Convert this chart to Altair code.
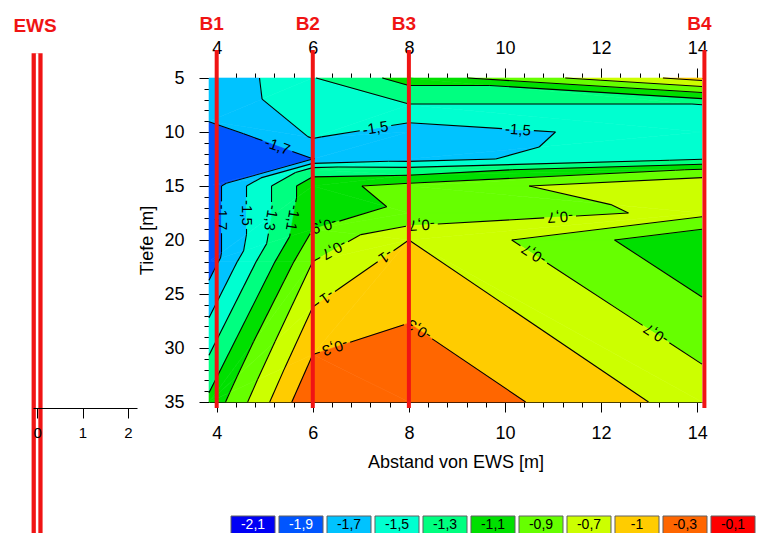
import math
import numpy as np
import pandas as pd
import altair as alt

FONT = "Liberation Sans"

# ---------------- values ----------------
# field values along four profiles: x [m], depth [m], value
profile_x = [3.84, 6.0, 8.0, 14.1]
profile_depths = [
    [5, 9, 15, 22, 35],
    [5, 10.5, 12.5, 13.5, 15, 19, 22, 26.2, 30.6, 35],
    [5, 7.5, 10, 12.5, 13.5, 14, 15, 17.5, 20, 35],
    [5, 7.5, 10, 12.5, 13.5, 15, 17.5, 20, 35],
]
profile_values = [
    [-1.68, -1.699, -1.80, -1.80, -1.05],
    [-1.31, -1.49, -1.702, -1.20, -0.97, -0.90, -0.70, -0.50, -0.30, -0.11],
    [-1.02, -1.31, -1.60, -1.58, -1.22, -1.10, -0.833, -0.879, -0.50, -0.11],
    [-0.42, -1.31, -1.40, -1.31, -0.88, -0.509, -0.64, -1.07, -0.587],
]
# triangulation between neighbouring profiles (L: next node left profile, R: next node right profile)
strip_steps = ["LRRLRRLRRLRRR", "RLRLRLRRLRRLRLLLRL", "RLRLLRLRLLRRLLRRL"]

# colour classes (legend)
band_labels = ["-2,1", "-1,9", "-1,7", "-1,5", "-1,3", "-1,1", "-0,9", "-0,7", "-1", "-0,3", "-0,1"]
band_colors = ["#0000F5", "#0055FF", "#00C3FF", "#00FFD0", "#00FF80", "#00E000",
               "#66FF00", "#CCFF00", "#FFCC00", "#FF6600", "#FF0000"]
levels = [-1.9, -1.7, -1.5, -1.3, -1.1, -0.9, -0.7, -0.5, -0.3, -0.1]

# contour labels: text, contour level, approximate position (x, depth)
label_text = ["-1,5", "-1,5", "-1,7", "-1,7", "-1,5", "-1,3", "-1,1", "-0,9", "-0,7", "-0,7",
              "-1", "-1", "-0,3", "-0,3", "-0,7", "-0,7", "-0,7"]
label_level = [-1.5, -1.5, -1.7, -1.7, -1.5, -1.3, -1.1, -0.9, -0.7, -0.7,
               -0.5, -0.5, -0.3, -0.3, -0.7, -0.7, -0.7]
label_x = [7.3, 10.27, 5.27, 4.1, 4.6, 5.06, 5.52, 6.25, 6.42, 8.27,
           7.5, 6.3, 6.46, 8.2, 11.15, 10.56, 13.1]
label_depth = [9.5, 9.8, 11.2, 17.9, 17.5, 17.9, 17.9, 18.9, 20.7, 18.6,
               21.4, 25.3, 29.9, 28.4, 18.1, 21.6, 29.0]

# boreholes
borehole_names = ["B1", "B2", "B3", "B4"]
borehole_x = [4.0, 6.0, 8.0, 14.15]
borehole_top = [2.4, 2.4, 2.4, 2.4]
borehole_bottom = [35.55, 35.55, 35.55, 35.55]
ews_name = ["EWS"]
ews_x = [0.0]
ews_top = [2.7]
ews_bottom = [48.0]

x_ticks = [4.0, 4.4, 4.8, 5.2, 5.6, 6.0, 6.4, 6.8, 7.2, 7.6, 8.0, 8.4, 8.8, 9.2, 9.6,
           10.0, 10.4, 10.8, 11.2, 11.6, 12.0, 12.4, 12.8, 13.2, 13.6, 14.0]
y_ticks = list(range(5, 36))
ews_ticks = [0, 1, 2]

X_DOM = [3.84, 14.1]
Y_DOM = [5, 35]
W, H = 493, 324

# ---------------- geometry from the values ----------------
nodes, col_idx = [], []
for cx, ds, vs in zip(profile_x, profile_depths, profile_values):
    idx = []
    for d, v in zip(ds, vs):
        idx.append(len(nodes))
        nodes.append((cx, float(d), float(v)))
    col_idx.append(idx)

tris = []
for s, steps in enumerate(strip_steps):
    Lc, Rc = col_idx[s], col_idx[s + 1]
    i = j = 0
    for st in steps:
        if st == "L":
            tris.append((Lc[i], Lc[i + 1], Rc[j])); i += 1
        else:
            tris.append((Lc[i], Rc[j], Rc[j + 1])); j += 1


def to_px(x, d):
    return ((x - X_DOM[0]) / (X_DOM[1] - X_DOM[0]) * W, (d - Y_DOM[0]) / (Y_DOM[1] - Y_DOM[0]) * H)


def from_px(X, Y):
    return (X_DOM[0] + X / W * (X_DOM[1] - X_DOM[0]), Y_DOM[0] + Y / H * (Y_DOM[1] - Y_DOM[0]))


def clip(poly, level, keep_above):
    out = []
    n = len(poly)
    for k in range(n):
        P, Q = poly[k], poly[(k + 1) % n]
        fp = (P[2] - level) if keep_above else (level - P[2])
        fq = (Q[2] - level) if keep_above else (level - Q[2])
        if fp >= 0:
            out.append(P)
        if (fp >= 0) != (fq >= 0):
            t = fp / (fp - fq)
            out.append(tuple(P[m] + t * (Q[m] - P[m]) for m in range(3)))
    return out


def poly_area(poly):
    a = 0.0
    for k in range(len(poly)):
        x1, y1 = poly[k][0], poly[k][1]
        x2, y2 = poly[(k + 1) % len(poly)][0], poly[(k + 1) % len(poly)][1]
        a += x1 * y2 - x2 * y1
    return abs(a) / 2


area_rows = []
pid = 0
for t in tris:
    tri = [nodes[k] for k in t]
    for b in range(len(band_labels)):
        poly = tri
        if b > 0:
            poly = clip(poly, levels[b - 1], True)
        if b < len(levels) and len(poly) >= 3:
            poly = clip(poly, levels[b], False)
        if len(poly) < 3 or poly_area(poly) < 1e-9:
            continue
        xs = sorted(set(round(p[0], 9) for p in poly))
        if len(xs) < 2:
            continue
        for xv in xs:
            ds = []
            for k in range(len(poly)):
                P, Q = poly[k], poly[(k + 1) % len(poly)]
                lo, hi = min(P[0], Q[0]), max(P[0], Q[0])
                if lo - 1e-9 <= xv <= hi + 1e-9:
                    if abs(Q[0] - P[0]) < 1e-12:
                        ds += [P[1], Q[1]]
                    else:
                        tt = (xv - P[0]) / (Q[0] - P[0])
                        ds.append(P[1] + tt * (Q[1] - P[1]))
            area_rows.append((pid, band_labels[b], xv, min(ds), max(ds)))
        pid += 1
area_df = pd.DataFrame(area_rows, columns=["pid", "band", "x", "d1", "d2"])

# contour segments (pixel space for geometry decisions)
segs = []
for ti, t in enumerate(tris):
    tri = [nodes[k] for k in t]
    for L in levels:
        pts = []
        for a, b in ((0, 1), (1, 2), (2, 0)):
            A, B = tri[a], tri[b]
            if (A[2] < L) != (B[2] < L):
                tt = (L - A[2]) / (B[2] - A[2])
                pts.append((A[0] + tt * (B[0] - A[0]), A[1] + tt * (B[1] - A[1])))
        if len(pts) == 2:
            P1, P2 = to_px(*pts[0]), to_px(*pts[1])
            if math.hypot(P2[0] - P1[0], P2[1] - P1[1]) > 1e-6:
                segs.append((L, P1, P2, ti))


def grad_px(t):
    (x0, d0, v0), (x1, d1, v1), (x2, d2, v2) = [nodes[k] for k in t]
    P0, P1, P2 = to_px(x0, d0), to_px(x1, d1), to_px(x2, d2)
    M = np.array([[P1[0] - P0[0], P1[1] - P0[1]], [P2[0] - P0[0], P2[1] - P0[1]]])
    return np.linalg.solve(M, [v1 - v0, v2 - v0])


CW = {"-": 0.333, ",": 0.278}
LABEL_FS = 15
lab_rows = []
lab_cuts = []
for txt, L, lx, ld in zip(label_text, label_level, label_x, label_depth):
    C = to_px(lx, ld)
    best = None
    for (SL, A, B, ti) in segs:
        if abs(SL - L) > 1e-9:
            continue
        dx, dy = B[0] - A[0], B[1] - A[1]
        tt = max(0, min(1, ((C[0] - A[0]) * dx + (C[1] - A[1]) * dy) / (dx * dx + dy * dy)))
        Pp = (A[0] + tt * dx, A[1] + tt * dy)
        dist = math.hypot(Pp[0] - C[0], Pp[1] - C[1])
        if best is None or dist < best[0]:
            best = (dist, Pp, ti)
    _, Pp, ti = best
    gx, gy = grad_px(tris[ti])
    ang = math.degrees(math.atan2(gx, -gy)) % 360
    wid = sum(CW.get(ch, 0.556) for ch in txt) * LABEL_FS
    lab_cuts.append((L, Pp, wid / 2 + 3))
    xx, dd = from_px(*Pp)
    lab_rows.append((txt, xx, dd, ang))
lab_df = pd.DataFrame(lab_rows, columns=["text", "x", "d", "angle"])


def cut(A, B, C, r):
    dx, dy = B[0] - A[0], B[1] - A[1]
    fx, fy = A[0] - C[0], A[1] - C[1]
    a = dx * dx + dy * dy
    b = 2 * (fx * dx + fy * dy)
    c = fx * fx + fy * fy - r * r
    disc = b * b - 4 * a * c
    if disc <= 0:
        return [(A, B)]
    s = math.sqrt(disc)
    t1, t2 = (-b - s) / (2 * a), (-b + s) / (2 * a)
    out = []
    lerp = lambda tt: (A[0] + tt * dx, A[1] + tt * dy)
    if t1 > 0:
        out.append((A, lerp(min(t1, 1))))
    if t2 < 1:
        out.append((lerp(max(t2, 0)), B))
    return [(p, q) for p, q in out if math.hypot(q[0] - p[0], q[1] - p[1]) > 1e-6]


seg_rows = []
for (L, A, B, ti) in segs:
    pieces = [(A, B)]
    for (LL, C, r) in lab_cuts:
        if abs(LL - L) > 1e-9:
            continue
        new = []
        for p, q in pieces:
            new += cut(p, q, C, r)
        pieces = new
    for p, q in pieces:
        x1, d1 = from_px(*p)
        x2, d2 = from_px(*q)
        seg_rows.append((x1, d1, x2, d2))
seg_df = pd.DataFrame(seg_rows, columns=["x", "d", "x2", "d2"])

bore_df = pd.DataFrame({"name": borehole_names, "x": borehole_x, "top": borehole_top, "bottom": borehole_bottom})
ews_df = pd.DataFrame({"name": ews_name, "x": ews_x, "top": ews_top, "bottom": ews_bottom})
leg_df = pd.DataFrame({"label": band_labels, "row": ["legend"] * len(band_labels)})

# ---------------- chart ----------------
EVEN = "abs(datum.value/2 - round(datum.value/2)) < 0.001"
FIVE = "abs(datum.value/5 - round(datum.value/5)) < 0.001"


def xscale():
    return alt.Scale(domain=X_DOM, nice=False, zero=False)


def yscale():
    return alt.Scale(domain=Y_DOM, nice=False, zero=False, reverse=True)


common = dict(domainColor="#000", domainWidth=1, tickColor="#000", tickWidth=1,
              labelColor="#000", labelFont=FONT, labelFontSize=18, labelOverlap=False,
              labelFlush=False, grid=False, titleFont=FONT, titleFontSize=18,
              titleFontWeight="normal", titleColor="#000")

x_axis_bottom = alt.Axis(orient="bottom", values=x_ticks,
                         tickSize={"condition": {"test": EVEN, "value": 10}, "value": 5},
                         labelExpr=f"{EVEN} ? format(datum.value, 'd') : ''",
                         labelPadding=12, title="Abstand von EWS [m]", titlePadding=11, **common)
x_axis_top = alt.Axis(orient="top", values=x_ticks,
                      tickSize={"condition": {"test": EVEN, "value": 10}, "value": 5},
                      labelExpr=f"{EVEN} ? format(datum.value, 'd') : ''",
                      labelPadding=11, title=None, **common)
y_axis = alt.Axis(orient="left", values=y_ticks,
                  tickSize={"condition": {"test": FIVE, "value": 10}, "value": 5},
                  labelExpr=f"{FIVE} ? format(datum.value, 'd') : ''",
                  labelPadding=15, title="Tiefe [m]", titlePadding=7, **common)
ews_common = dict(common)
ews_common["labelFontSize"] = 15
ews_axis = alt.Axis(orient="bottom", offset=6, values=ews_ticks, tickSize=10, format="d",
                    labelPadding=7, title=None, zindex=2, **ews_common)

color_scale = alt.Scale(domain=band_labels, range=band_colors)

areas = alt.Chart(area_df).mark_area(strokeWidth=0.6).encode(
    x=alt.X("x:Q", scale=xscale(), axis=x_axis_bottom),
    y=alt.Y("d1:Q", scale=yscale(), axis=y_axis),
    y2="d2:Q",
    detail="pid:N",
    color=alt.Color("band:N", scale=color_scale, legend=None),
    stroke=alt.Stroke("band:N", scale=color_scale, legend=None),
)

lines = alt.Chart(seg_df).mark_rule(color="#000", strokeWidth=1.1).encode(
    x=alt.X("x:Q", scale=xscale(), axis=None),
    y=alt.Y("d:Q", scale=yscale(), axis=None),
    x2="x2:Q", y2="d2:Q",
)

labels = alt.Chart(lab_df).mark_text(font=FONT, fontSize=LABEL_FS, color="#000",
                                     align="center", baseline="middle").encode(
    x=alt.X("x:Q", scale=xscale(), axis=None),
    y=alt.Y("d:Q", scale=yscale(), axis=None),
    text="text:N",
    angle=alt.Angle("angle:Q", scale=None),
)

RED = "#F01414"
bores = alt.Chart(bore_df).mark_rule(color=RED, strokeWidth=4).encode(
    x=alt.X("x:Q", scale=xscale(), axis=x_axis_top),
    y=alt.Y("top:Q", scale=yscale(), axis=None),
    y2="bottom:Q",
)
bore_text = alt.Chart(bore_df).mark_text(font=FONT, fontSize=19, fontWeight="bold", color=RED,
                                         baseline="middle", dy=-26, dx=-5).encode(
    x=alt.X("x:Q", scale=xscale(), axis=None),
    y=alt.Y("top:Q", scale=yscale(), axis=None),
    text="name:N",
)

ews_scale = lambda: alt.Scale(domain=[-0.09, 2.2], range=[-176, -72], nice=False, zero=False)
ews_outer = alt.Chart(ews_df).mark_rule(color=RED, strokeWidth=11).encode(
    x=alt.X("x:Q", scale=ews_scale(), axis=ews_axis),
    y=alt.Y("top:Q", scale=yscale(), axis=None),
    y2="bottom:Q",
)
ews_inner = alt.Chart(ews_df).mark_rule(color="#FFFFFF", strokeWidth=2.5).encode(
    x=alt.X("x:Q", scale=ews_scale(), axis=None),
    y=alt.Y("top:Q", scale=yscale(), axis=None),
    y2="bottom:Q",
)
ews_text = alt.Chart(ews_df).mark_text(font=FONT, fontSize=19, fontWeight="bold", color=RED,
                                       baseline="middle", dy=-27, dx=-2).encode(
    x=alt.X("x:Q", scale=ews_scale(), axis=None),
    y=alt.Y("top:Q", scale=yscale(), axis=None),
    text="name:N",
)

leg_x = lambda: alt.Scale(type="band", domain=band_labels, range=[22, 546], paddingInner=0.083, paddingOuter=0)
leg_y = lambda: alt.Scale(type="band", domain=["legend"], range=[438, 456], paddingInner=0, paddingOuter=0)
leg_rect = alt.Chart(leg_df).mark_rect(stroke="#606060", strokeWidth=1).encode(
    x=alt.X("label:N", scale=leg_x(), axis=None),
    y=alt.Y("row:N", scale=leg_y(), axis=None),
    color=alt.Color("label:N", scale=color_scale, legend=None),
)
leg_text = alt.Chart(leg_df).mark_text(font=FONT, fontSize=14, baseline="middle", align="center").encode(
    x=alt.X("label:N", scale=leg_x(), axis=None),
    y=alt.Y("row:N", scale=leg_y(), axis=None),
    text="label:N",
    color=alt.condition(alt.FieldOneOfPredicate(field="label", oneOf=["-2,1", "-1,9"]),
                        alt.value("#FFFFFF"), alt.value("#000000")),
)

chart = alt.layer(
    areas, lines, labels, bores, bore_text, ews_outer, ews_inner, ews_text, leg_rect, leg_text
).resolve_scale(x="independent", y="independent").properties(
    width=W, height=H,
    padding={"left": 201, "top": 70, "right": 58, "bottom": 131},
    autosize=alt.AutoSizeParams(type="none"),
).configure_view(stroke=None)

chart.save("out.html", embed_options={"renderer": "svg", "actions": False})
